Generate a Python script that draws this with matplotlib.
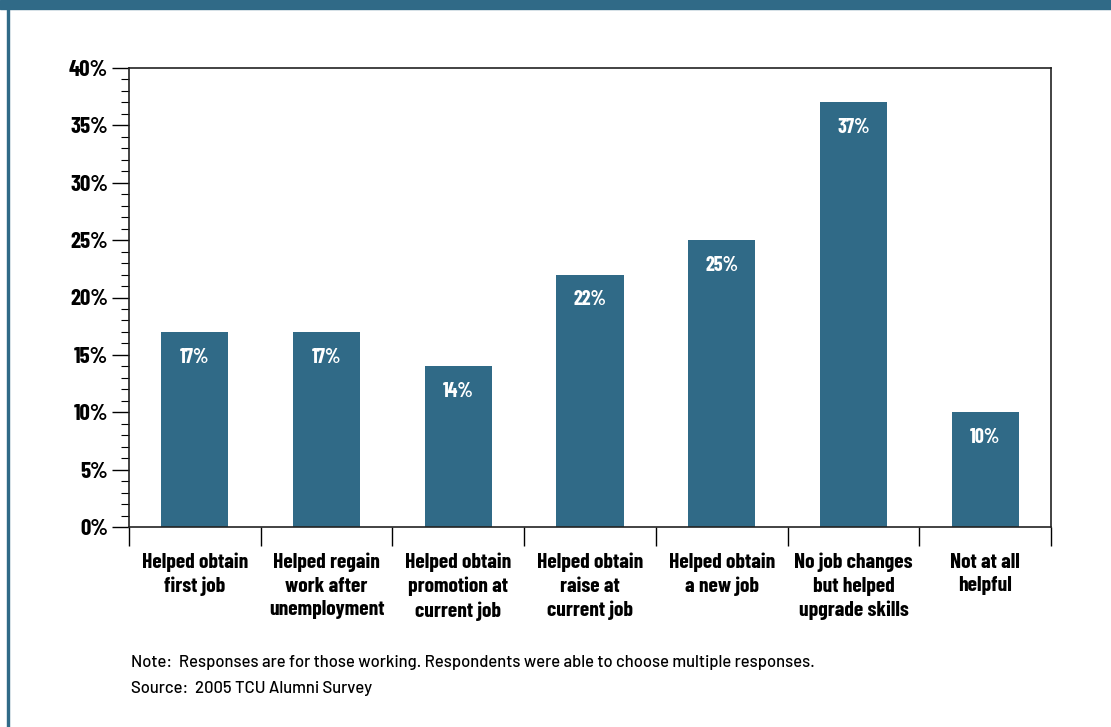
import matplotlib.pyplot as plt
from matplotlib.ticker import MultipleLocator, FuncFormatter

categories = [
    "Helped obtain\nfirst job",
    "Helped regain\nwork after\nunemployment",
    "Helped obtain\npromotion at\ncurrent job",
    "Helped obtain\nraise at\ncurrent job",
    "Helped obtain\na new job",
    "No job changes\nbut helped\nupgrade skills",
    "Not at all\nhelpful",
]
values = [17, 17, 14, 22, 25, 37, 10]

teal = "#306a87"
cond = dict(family=["Barlow Condensed", "DejaVu Sans"], weight=700)
note_font = ["Barlow", "DejaVu Sans"]

fig = plt.figure(figsize=(11.11, 7.27), dpi=100)
ax = fig.add_axes([129 / 1111, 1 - 527 / 727, 922 / 1111, 459 / 727])

x = range(len(values))
ax.bar(x, values, width=0.51, color=teal)
for i, v in zip(x, values):
    ax.text(i, v - 2.2, f"{v}%", ha="center", va="center", color="white",
            fontsize=14.5, **cond)

ax.set_xlim(-0.5, len(values) - 0.5)
ax.set_ylim(0, 40)
ax.yaxis.set_major_locator(MultipleLocator(5))
ax.yaxis.set_minor_locator(MultipleLocator(1))
ax.yaxis.set_major_formatter(FuncFormatter(lambda v, p: f"{v:.0f}%"))
ax.tick_params(axis="y", which="major", length=12, width=1, direction="out", pad=3)
ax.tick_params(axis="y", which="minor", length=6, width=0.8, direction="out")
for lab in ax.get_yticklabels():
    lab.set_fontsize(16.5)
    lab.set_family(cond["family"])
    lab.set_fontweight(700)

# category separators below the axis
ax.set_xticks([i + 0.5 for i in range(-1, len(values))])
ax.set_xticklabels([])
ax.tick_params(axis="x", which="major", length=14, width=1, direction="out")
for i, c in enumerate(categories):
    ax.text(i, -2.25, c, ha="center", va="top", fontsize=15.5,
            linespacing=1.3, **cond)

for s in ax.spines.values():
    s.set_linewidth(1.2)
    s.set_color("#222222")

# decorative frame
fig.patches.append(plt.Rectangle((0, 1 - 9 / 727), 1, 9 / 727, transform=fig.transFigure,
                                 color=teal, zorder=0))
fig.patches.append(plt.Rectangle((7 / 1111, 0), 2 / 1111, 1, transform=fig.transFigure,
                                 color=teal, zorder=0))

fig.text(131 / 1111, 1 - 662 / 727,
         "Note:  Responses are for those working. Respondents were able to choose multiple responses.",
         fontsize=12, va="center", ha="left", family=note_font, weight=500)
fig.text(131 / 1111, 1 - 689 / 727, "Source:  2005 TCU Alumni Survey",
         fontsize=12, va="center", ha="left", family=note_font, weight=500)

fig.savefig("out.png", dpi=100)
